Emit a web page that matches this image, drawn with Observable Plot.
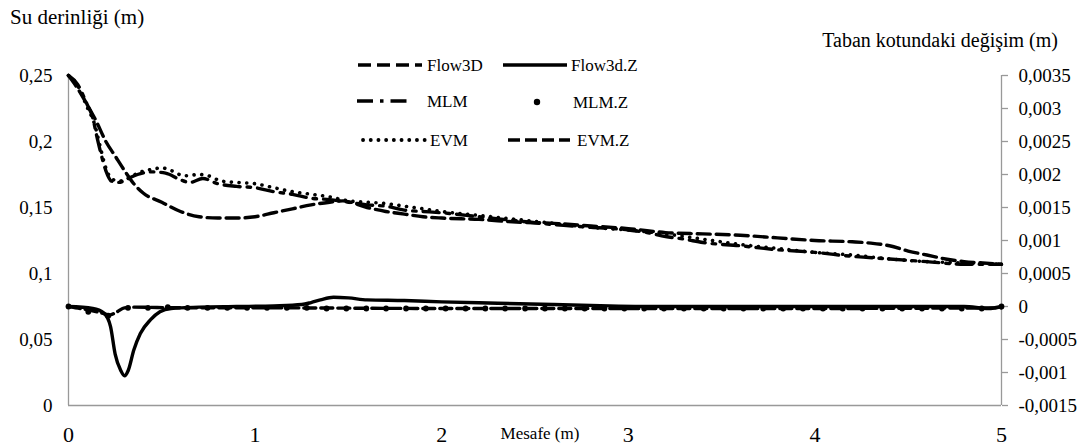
<!DOCTYPE html>
<html><head><meta charset="utf-8">
<script src="https://cdn.jsdelivr.net/npm/d3@7"></script>
<script src="https://cdn.jsdelivr.net/npm/@observablehq/plot@0.6"></script>
<style>
body{margin:0;background:#fff;font-family:"Liberation Serif","Tinos","DejaVu Serif",serif;}
#wrap{position:relative;width:1083px;height:448px;}
#wrap svg{display:block;}
#wrap svg, #wrap svg text{font-family:"Liberation Serif","Tinos","DejaVu Serif",serif !important;}
</style></head><body><div id="wrap"></div>
<script>
// ---- data ----
const flowX = [0,0.05,0.1,0.15,0.2,0.25,0.3,0.35,0.4,0.5,0.6,0.7,0.8,0.9,1.0,1.1,1.2,1.3,1.4,1.47,1.6,1.7,1.8,1.9,2.0,2.2,2.4,2.6,2.8,3.0,3.2,3.4,3.6,3.8,4.0,4.2,4.3,4.4,4.5,4.6,4.7,4.8,4.9,5.0];
const flowH = [0.25,0.240,0.228,0.215,0.200,0.189,0.178,0.168,0.161,0.154,0.147,0.143,0.142,0.142,0.143,0.146,0.149,0.152,0.154,0.155,0.150,0.147,0.145,0.143,0.142,0.141,0.139,0.138,0.136,0.134,0.131,0.130,0.129,0.127,0.125,0.124,0.123,0.121,0.117,0.114,0.111,0.109,0.108,0.107];

const mlmX = [0,0.05,0.1,0.13,0.15,0.17,0.2,0.23,0.27,0.32,0.37,0.45,0.52,0.6,0.65,0.72,0.8,0.9,1.0,1.1,1.2,1.3,1.4,1.5,1.6,1.7,1.8,1.9,2.0,2.2,2.4,2.6,2.8,3.0,3.1,3.2,3.3,3.4,3.6,3.8,4.0,4.2,4.4,4.6,4.8,5.0];
const mlmH = [0.25,0.243,0.228,0.218,0.205,0.193,0.178,0.170,0.169,0.172,0.175,0.177,0.176,0.171,0.169,0.172,0.168,0.166,0.165,0.162,0.160,0.157,0.156,0.154,0.152,0.151,0.148,0.147,0.146,0.143,0.140,0.137,0.135,0.133,0.131,0.128,0.126,0.1235,0.121,0.118,0.116,0.113,0.111,0.109,0.107,0.107];

const evmX = [0,0.05,0.1,0.14,0.17,0.2,0.23,0.27,0.32,0.37,0.45,0.5,0.55,0.62,0.7,0.75,0.82,0.9,1.0,1.1,1.2,1.3,1.4,1.5,1.6,1.7,1.8,1.9,2.0,2.2,2.4,2.6,2.8,3.0,3.2,3.4,3.6,3.8,4.0,4.2,4.4,4.6,4.8,5.0];
const evmH = [0.25,0.242,0.226,0.213,0.196,0.180,0.172,0.170,0.172,0.176,0.179,0.180,0.178,0.174,0.175,0.174,0.170,0.169,0.168,0.165,0.162,0.160,0.158,0.155,0.154,0.153,0.151,0.149,0.147,0.144,0.141,0.138,0.135,0.133,0.130,0.126,0.122,0.119,0.116,0.114,0.111,0.109,0.108,0.107];

const flowZX = [0,0.13,0.19,0.225,0.25,0.28,0.3,0.32,0.35,0.385,0.44,0.49,0.55,0.7,0.9,1.1,1.25,1.3,1.35,1.42,1.5,1.6,1.8,2.0,2.3,2.6,2.9,3.2,4.0,4.8,4.93,5.0];
const flowZ  = [0,-0.00003,-0.0001,-0.0003,-0.00072,-0.00097,-0.00105,-0.00097,-0.00066,-0.00041,-0.0002,-0.00008,-0.00003,-0.00001,0,0.00001,0.00003,0.00006,0.0001,0.00014,0.00013,0.0001,0.00009,0.00007,0.00005,0.00003,0.00001,0,0,0,-0.00003,0];

const mlmZX = [0,0.106,0.213,0.319,0.426,0.532,0.638,0.745,0.851,0.957,1.064,1.170,1.277,1.383,1.489,1.596,1.702,1.809,1.915,2.021,2.128,2.234,2.340,2.447,2.553,2.660,2.766,2.872,2.979,3.085,3.191,3.298,3.404,3.511,3.617,3.723,3.830,3.936,4.043,4.149,4.255,4.362,4.468,4.574,4.681,4.787,4.894,5.0];
const mlmZ  = [0,-0.00008,-0.00014,-0.00002,-0.00002,-0.00001,-0.00002,-0.00002,-0.00002,-0.00002,-0.00002,-0.00002,-0.00002,-0.00003,-0.00003,-0.00003,-0.00003,-0.00003,-0.00003,-0.00003,-0.00003,-0.00003,-0.00003,-0.00003,-0.00003,-0.00003,-0.00003,-0.00003,-0.00003,-0.00003,-0.00003,-0.00003,-0.00003,-0.00003,-0.00003,-0.00003,-0.00003,-0.00003,-0.00003,-0.00003,-0.00003,-0.00003,-0.00003,-0.00003,-0.00003,-0.00003,-0.00003,0];

const evmZX = [0,0.1,0.18,0.22,0.26,0.3,0.35,0.6,1.0,2.0,3.0,4.0,5.0];
const evmZ  = [0,-0.00005,-0.0001,-0.00013,-0.00008,-0.00002,-0.00001,-0.00002,-0.00002,-0.00003,-0.00003,-0.00003,-0.00002];

const xTicks = [0,1,2,3,4,5];
const leftTicks = [0,0.05,0.1,0.15,0.2,0.25];
const leftLabels = ["0","0,05","0,1","0,15","0,2","0,25"];
const rightTicks = [-0.0015,-0.001,-0.0005,0,0.0005,0.001,0.0015,0.002,0.0025,0.003,0.0035];
const rightLabels = ["-0,0015","-0,001","-0,0005","0","0,0005","0,001","0,0015","0,002","0,0025","0,003","0,0035"];

// ---- chart ----
const FONT = '"Liberation Serif","Tinos","DejaVu Serif",serif';
const toLeft = z => 0.075 + z * 50; // right axis [-0.0015,0.0035] onto left [0,0.25]
const zip = (xs, ys, f = v => v) => xs.map((x, i) => ({x, y: f(ys[i])}));
const rightPos = rightTicks.map(toLeft);
const lab = (vals, labels) => d => { const i = vals.findIndex(v => Math.abs(v - d) < 1e-9); return i < 0 ? "" : labels[i]; };

const base = {x: "x", y: "y", stroke: "#000", strokeWidth: 3.4, curve: "monotone-x"};
const axisCol = "#999";

const chart = Plot.plot({
  width: 1083, height: 448,
  marginLeft: 68, marginRight: 82, marginTop: 75, marginBottom: 43,
  x: {domain: [0, 5]},
  y: {domain: [0, 0.25]},
  style: {fontFamily: FONT, background: "white", color: "#000"},
  marks: [
    Plot.ruleX([0], {stroke: axisCol, strokeWidth: 1.3}),
    Plot.ruleX([5], {stroke: axisCol, strokeWidth: 1.3}),
    Plot.ruleY([0], {stroke: axisCol, strokeWidth: 1.3}),
    Plot.axisY({anchor: "left", ticks: leftTicks, tickFormat: lab(leftTicks, leftLabels), tickSize: 0, tickPadding: 16, fontSize: 19, label: null}),
    Plot.axisY({anchor: "right", ticks: rightPos, tickFormat: lab(rightPos, rightLabels), tickSize: 6, tickPadding: 11, fontSize: 19, label: null, stroke: axisCol, strokeWidth: 1.3}),
    Plot.axisX({ticks: xTicks, tickFormat: d => String(d), tickSize: 0, tickPadding: 21, fontSize: 22, label: null}),
    Plot.line(zip(evmZX, evmZ, toLeft), {...base, strokeDasharray: "12,5"}),
    Plot.line(zip(flowZX, flowZ, toLeft), {...base}),
    Plot.dot(zip(mlmZX, mlmZ, toLeft), {x: "x", y: "y", r: 2.9, fill: "#000", stroke: null}),
    Plot.line(zip(flowX, flowH), {...base, strokeDasharray: "13,6"}),
    Plot.line(zip(mlmX, mlmH), {...base, strokeDasharray: "16,7,3.5,7"}),
    Plot.line(zip(evmX, evmH), {...base, strokeWidth: 3.6, strokeDasharray: "0.1,7.6", strokeLinecap: "round"})
  ]
});
const wrap = document.getElementById("wrap");
wrap.appendChild(chart);

// ---- titles & legend overlay ----
const ov = d3.select(wrap).append("svg")
  .attr("width", 1083).attr("height", 448)
  .attr("font-family", FONT)
  .style("position", "absolute").style("left", 0).style("top", 0).style("pointer-events", "none");

ov.append("text").attr("x", 10).attr("y", 17).attr("dy", "0.35em").attr("font-size", 21).text("Su derinliği (m)");
ov.append("text").attr("x", 1058).attr("y", 40).attr("dy", "0.35em").attr("text-anchor", "end").attr("font-size", 20).text("Taban kotundaki değişim (m)");
ov.append("text").attr("x", 540).attr("y", 433).attr("dy", "0.35em").attr("text-anchor", "middle").attr("font-size", 17).text("Mesafe (m)");

const legend = [
  {name: "Flow3D", x0: 358, x1: 422, tx: 427, y: 65, dash: "13,6"},
  {name: "Flow3d.Z", x0: 503, x1: 567, tx: 571, y: 65, dash: null},
  {name: "MLM", x0: 357, x1: 410, tx: 427, y: 101, dash: "16,7,3.5,7"},
  {name: "MLM.Z", dot: 537, tx: 573, y: 102},
  {name: "EVM", x0: 363, x1: 425, tx: 430, y: 140, dash: "0.1,7.6", round: true},
  {name: "EVM.Z", x0: 508, x1: 570, tx: 577, y: 140, dash: "12,5"}
];
for (const l of legend) {
  if (l.dot != null) {
    ov.append("circle").attr("cx", l.dot).attr("cy", l.y).attr("r", 3.2).attr("fill", "#000");
  } else {
    const ln = ov.append("line").attr("x1", l.x0).attr("x2", l.x1).attr("y1", l.y).attr("y2", l.y)
      .attr("stroke", "#000").attr("stroke-width", l.round ? 3.8 : 3.6);
    if (l.dash) ln.attr("stroke-dasharray", l.dash);
    if (l.round) ln.attr("stroke-linecap", "round");
  }
  ov.append("text").attr("x", l.tx).attr("y", l.y).attr("dy", "0.35em").attr("font-size", 17).text(l.name);
}
</script></body></html>
